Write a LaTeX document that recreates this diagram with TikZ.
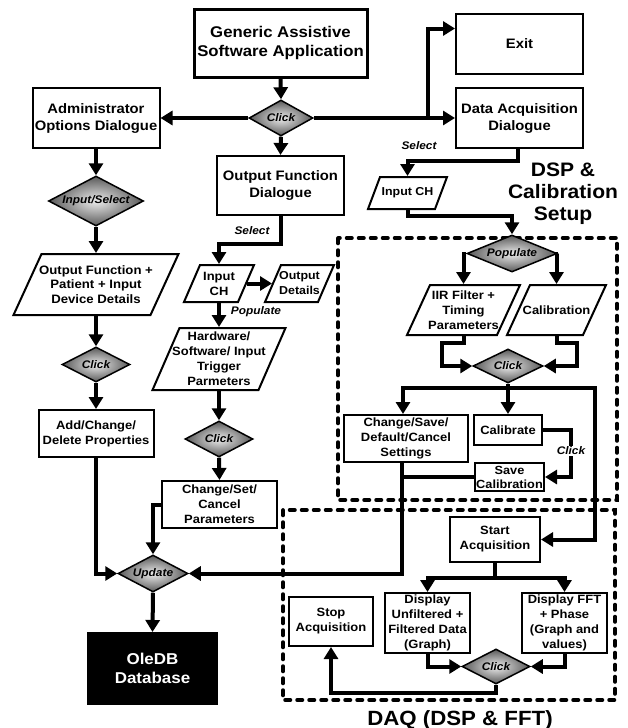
\documentclass[tikz,border=0pt]{standalone}
\usepackage{fontspec}
\setmainfont{Liberation Sans}[FakeStretch=1.08]
\usetikzlibrary{arrows.meta,shapes.geometric}

\newcommand\fsz[2]{\fontsize{#1}{#2}\selectfont}
% slanted data box: name, cx, cy, overall width, height, slant, style, text
\newcommand\slantnode[8]{%
  \draw[dbox] ({#2-#4/2},{#3+#5/2}) -- ({#2-#4/2+#6},{#3-#5/2})
    -- ({#2+#4/2},{#3-#5/2}) -- ({#2+#4/2-#6},{#3+#5/2}) -- cycle;
  \node[#7, minimum width={#4-#6}, minimum height=#5] (#1) at (#2,#3) {#8};}

\begin{document}
\begin{tikzpicture}[x=1pt,y=-1pt,
  box/.style={draw, line width=2pt, fill=white, align=center, inner sep=0pt},
  dbox/.style={draw, line width=2pt, fill=white},
  ptxt/.style={align=center, inner sep=0pt, outer sep=1pt},
  tbig/.style={font=\bfseries\fsz{15.5}{19}},
  tmid/.style={font=\bfseries\fsz{13.7}{17}},
  tsml/.style={font=\bfseries\fsz{12}{15}},
  dec/.style={diamond, aspect=2, draw, line width=1.5pt, inner sep=0pt,
    shading=radial, inner color=gray!15, outer color=black!65,
    font=\bfseries\itshape\fsz{11}{13}},
  lab/.style={font=\bfseries\itshape\fsz{11}{13}, inner sep=1pt},
  conn/.style={line width=4pt, -{Triangle[length=12pt,width=14pt]}},
  wire/.style={line width=4pt},
  grp/.style={line width=3.5pt, dash pattern=on 5.5pt off 6.5pt, line cap=round},
  title/.style={font=\bfseries, inner sep=0pt, align=center}]

\fill[white] (0,0) rectangle (627,728);
\useasboundingbox (0,0) rectangle (627,728);

% group frames
\draw[grp] (338,238) rectangle (617,500);
\draw[grp] (283,510) rectangle (615,700);
\node[title, font=\bfseries\fsz{19.5}{22}, anchor=north] (dsplab) at (563,163)
  {DSP \&\\Calibration\\Setup};
\node[title, font=\bfseries\fsz{20.6}{24}, anchor=base] (daqlab) at (460,725)
  {DAQ (DSP \& FFT)};

% main entry
\node[box, line width=3pt, tbig, minimum width=173pt, minimum height=68pt] (gen)
  at (280.5,43) {Generic Assistive\\Software Application};
\node[dec, minimum width=64pt, minimum height=36pt] (click1) at (281,118) {Click};
\node[box, tmid, minimum width=127pt, minimum height=60pt] (exit) at (519.5,44) {Exit};
\node[box, tmid, minimum width=127pt, minimum height=60pt] (daqd) at (519.5,118)
  {Data Acquisition\\Dialogue};
\node[box, tmid, minimum width=127pt, minimum height=60pt] (admin) at (96,118)
  {Administrator\\Options Dialogue};
\node[box, tmid, minimum width=127pt, minimum height=59pt] (ofd) at (280.5,185.5)
  {Output Function\\Dialogue};

% administrator branch
\node[dec, minimum width=95pt, minimum height=50pt] (insel) at (96,201) {Input/Select};
\slantnode{ofplus}{96}{284.5}{165}{61}{28}{ptxt,tsml,font=\bfseries\fsz{12.2}{14.5}}
  {Output Function +\\Patient + Input\\Device Details}
\node[dec, minimum width=68pt, minimum height=35pt] (click2) at (96,364.5) {Click};
\node[box, tsml, minimum width=115pt, minimum height=47pt] (addc) at (96,433.5)
  {Add/Change/\\Delete Properties};

% output function branch
\slantnode{inchb}{219}{283.5}{70}{37}{16}{ptxt,tsml}{Input\\CH}
\slantnode{outd}{299.5}{283.5}{69}{37}{16}{ptxt,tsml,font=\bfseries\fsz{11.5}{15}}{Output\\Details}
\slantnode{hw}{219}{359}{133}{62}{27}{ptxt,tsml}
  {Hardware/\\Software/ Input\\Trigger\\Parmeters}
\node[dec, minimum width=68pt, minimum height=36pt] (click3) at (219,439) {Click};
\node[box, tsml, minimum width=115pt, minimum height=47pt] (chset) at (219.5,504.5)
  {Change/Set/\\Cancel\\Parameters};
\node[dec, minimum width=70pt, minimum height=37pt] (update) at (153,573.5) {Update};
\node[box, fill=black, text=white, font=\bfseries\fsz{15.7}{19},
  minimum width=129pt, minimum height=71pt] (oledb) at (152.5,668.5) {OleDB\\Database};

% DSP and calibration setup
\slantnode{incha}{407.5}{193}{79}{32}{12}{ptxt,font=\bfseries\fsz{11.5}{14}}{Input CH}
\node[dec, minimum width=90pt, minimum height=37pt] (populate) at (512,253.5) {Populate};
\slantnode{iir}{463.5}{310}{113}{50}{23}{ptxt,tsml}{IIR Filter +\\Timing\\Parameters}
\slantnode{calpar}{556.5}{310}{99}{50}{23}{ptxt,tsml}{Calibration}
\node[dec, minimum width=70pt, minimum height=34pt] (click4) at (508,366) {Click};
\node[box, tsml, minimum width=124pt, minimum height=47pt] (chsave) at (406,438.5)
  {Change/Save/\\Default/Cancel\\Settings};
\node[box, tsml, minimum width=68pt, minimum height=30pt] (calib) at (508,430) {Calibrate};
\node[box, tsml, font=\bfseries\fsz{11.8}{14}, minimum width=69pt, minimum height=28pt]
  (savecal) at (509.5,477) {Save\\Calibration};

% DAQ
\node[box, tsml, minimum width=90pt, minimum height=45pt] (start) at (495,539.5)
  {Start\\Acquisition};
\node[box, tsml, minimum width=85pt, minimum height=60pt] (dispu) at (427.5,623)
  {Display\\Unfiltered +\\Filtered Data\\(Graph)};
\node[box, tsml, minimum width=85pt, minimum height=60pt] (dispf) at (564.5,623)
  {Display FFT\\+ Phase\\(Graph and\\values)};
\node[box, tsml, minimum width=84pt, minimum height=49pt] (stop) at (331,621.5)
  {Stop\\Acquisition};
\node[dec, minimum width=68pt, minimum height=35pt] (click5) at (496,666.5) {Click};

% connectors: top level
\draw[conn] (gen.south) -- (click1.north);
\draw[conn] (click1.west) -- (admin.east);
\draw[conn] (click1.east) -- (daqd.west);
\coordinate (jx) at (428,118);
\draw[conn] (jx) |- ([yshift=15.5pt]exit.west);
\draw[conn] (click1.south) -- (ofd.north);

% administrator branch
\draw[conn] (admin.south) -- (insel.north);
\draw[conn] (insel.south) -- (ofplus.north);
\draw[conn] (ofplus.south) -- (click2.north);
\draw[conn] (click2.south) -- (addc.north);
\draw[conn] (addc.south) |- (update.west);
\draw[conn] (update.south) -- (oledb.north);

% output function branch
\draw[conn] (ofd.south) -- ++(0,28) -| (inchb.north);
\node[lab] (sel1) at (252,231) {Select};
\draw[conn] (inchb.east) -- (outd.west);
\draw[conn] (inchb.south) -- (hw.north);
\node[lab] (pop1) at (256,312) {Populate};
\draw[conn] (hw.south) -- (click3.north);
\draw[conn] (click3.south) -- (chset.north);
\draw[conn] (chset.west) -| (update.north);

% data acquisition branch
\draw[conn] ([xshift=-1.5pt]daqd.south) -- ++(0,12) -| (incha.north);
\node[lab] (sel2) at (419,146) {Select};
\draw[conn] (incha.south) -- ++(0,6) -| (populate.north);
\draw[conn] (populate.west) -| (iir.north);
\draw[conn] (populate.east) -| (calpar.north);
\draw[conn] (iir.south) -- ++(0,7) -- ++(-22,0) |- (click4.west);
\draw[conn] (calpar.south) -- ++(0,7) -- ++(20,0) |- (click4.east);
\draw[conn] (click4.south) -- (calib.north);
\coordinate (jc) at (508,388);
\coordinate (jcr) at (595,388);
\draw[conn] (jc) -| ([xshift=-3pt]chsave.north);
\draw[conn] (jc) -- (jcr) |- (start.east);
\draw[conn] (calib.east) -- ++(28,0) |- (savecal.east);
\node[lab, fill=white] (clk) at (571,451) {Click};
\coordinate (cs) at ([xshift=-4pt]chsave.south);
\draw[conn] (cs) |- (update.east);
\draw[wire] (savecal.west) -- (cs |- savecal.west);

% acquisition loop
\draw[conn] (start.south) -- ++(0,15) -| (dispu.north);
\draw[conn] (start.south) -- ++(0,15) -| (dispf.north);
\draw[conn] (dispu.south) |- (click5.west);
\draw[conn] (dispf.south) |- (click5.east);
\draw[conn] (click5.south) -- ++(0,8) -| (stop.south);

\end{tikzpicture}
\end{document}
